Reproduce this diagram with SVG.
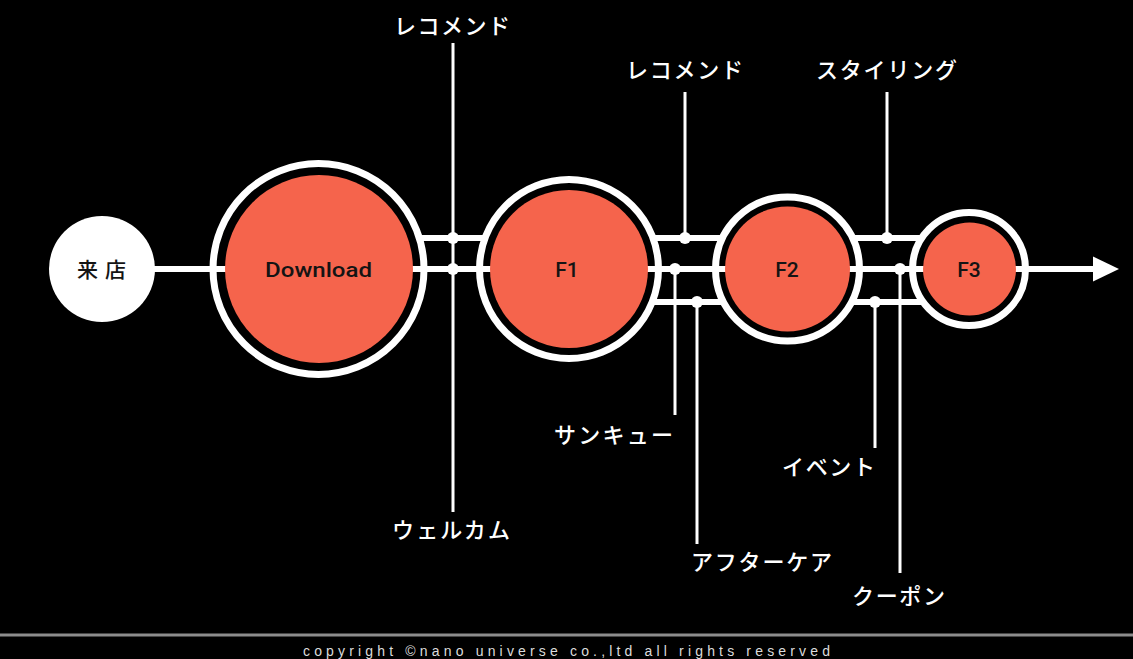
<svg xmlns="http://www.w3.org/2000/svg" width="1133" height="659" viewBox="0 0 1133 659">
<style>
.bg{fill:#000}
.hl{stroke:#fff;stroke-width:6;fill:none}
.vl{stroke:#fff;stroke-width:3;fill:none}
.dot{fill:#fff}
.ring{fill:#000;stroke:#fff;stroke-width:7}
.disc{fill:#F5644C}
.lbl{font-family:"Noto Sans CJK JP","Noto Sans",sans-serif;font-size:22px;font-weight:500;fill:#fff}
.in{font-family:Roboto,"Liberation Sans",Arial,sans-serif;font-size:21px;font-weight:500;fill:#141414}
.jp{font-family:"Noto Sans CJK JP",sans-serif;font-size:21px;font-weight:500;fill:#141414}
.copy{font-family:"Liberation Sans",Arial,sans-serif;font-size:14px;fill:#dcdcdc}
</style>
<rect class="bg" x="0" y="0" width="1133" height="659"/>

<g id="connectors">
  <line class="hl" x1="400" y1="238" x2="500" y2="238"/>
  <line class="hl" x1="640" y1="238" x2="740" y2="238"/>
  <line class="hl" x1="640" y1="302" x2="740" y2="302"/>
  <line class="hl" x1="840" y1="238" x2="940" y2="238"/>
  <line class="hl" x1="840" y1="302" x2="940" y2="302"/>
  <line class="vl" x1="453" y1="43" x2="453" y2="512"/>
  <line class="vl" x1="685" y1="92" x2="685" y2="238"/>
  <line class="vl" x1="675" y1="269" x2="675" y2="415"/>
  <line class="vl" x1="697" y1="302" x2="697" y2="544"/>
  <line class="vl" x1="887" y1="92" x2="887" y2="238"/>
  <line class="vl" x1="875" y1="302" x2="875" y2="448"/>
  <line class="vl" x1="900" y1="269" x2="900" y2="573"/>
</g>

<g id="rings">
  <circle class="ring" cx="318.5" cy="269" r="105.5"/>
  <circle class="ring" cx="569" cy="269" r="89.5"/>
  <circle class="ring" cx="787.5" cy="269" r="72"/>
  <circle class="ring" cx="969" cy="269" r="56.5"/>
</g>

<g id="main-line">
  <line class="hl" x1="150" y1="269" x2="1096" y2="269"/>
  <polygon fill="#fff" points="1093,256.5 1119,269 1093,281.5"/>
  <circle class="dot" cx="453" cy="238" r="6"/>
  <circle class="dot" cx="453" cy="269" r="6"/>
  <circle class="dot" cx="685" cy="238" r="6"/>
  <circle class="dot" cx="675" cy="269" r="6"/>
  <circle class="dot" cx="697" cy="302" r="6"/>
  <circle class="dot" cx="887" cy="238" r="6"/>
  <circle class="dot" cx="900" cy="269" r="6"/>
  <circle class="dot" cx="875" cy="302" r="6"/>
</g>

<g id="node-raiten">
  <circle cx="102" cy="269" r="53" fill="#fff"/>
  <text class="jp" x="77" y="277" textLength="49" lengthAdjust="spacing">来店</text>
</g>
<g id="node-download">
  <circle class="disc" cx="319" cy="269" r="94"/>
  <text class="in" x="265" y="277" textLength="107" lengthAdjust="spacingAndGlyphs">Download</text>
</g>
<g id="node-f1">
  <circle class="disc" cx="569" cy="269" r="79"/>
  <text class="in" x="567" y="277" text-anchor="middle">F1</text>
</g>
<g id="node-f2">
  <circle class="disc" cx="787.5" cy="269" r="62.5"/>
  <text class="in" x="787" y="277" text-anchor="middle">F2</text>
</g>
<g id="node-f3">
  <circle class="disc" cx="969.5" cy="269" r="46.5"/>
  <text class="in" x="969" y="277" text-anchor="middle">F3</text>
</g>

<g id="labels">
  <text class="lbl" x="394" y="34" textLength="116" lengthAdjust="spacing">レコメンド</text>
  <text class="lbl" x="626" y="78" textLength="117" lengthAdjust="spacing">レコメンド</text>
  <text class="lbl" x="816" y="78" textLength="141" lengthAdjust="spacing">スタイリング</text>
  <text class="lbl" x="554" y="443" textLength="119" lengthAdjust="spacing">サンキュー</text>
  <text class="lbl" x="392" y="538" textLength="118" lengthAdjust="spacing">ウェルカム</text>
  <text class="lbl" x="691" y="570" textLength="141" lengthAdjust="spacing">アフターケア</text>
  <text class="lbl" x="782" y="475" textLength="93" lengthAdjust="spacing">イベント</text>
  <text class="lbl" x="852" y="604" textLength="93" lengthAdjust="spacing">クーポン</text>
</g>

<g id="footer">
  <line x1="0" y1="635" x2="1133" y2="635" stroke="#8c8c8c" stroke-width="3"/>
  <text class="copy" x="303" y="656" textLength="527" lengthAdjust="spacing">copyright ©nano universe co.,ltd all rights reserved</text>
</g>
</svg>
